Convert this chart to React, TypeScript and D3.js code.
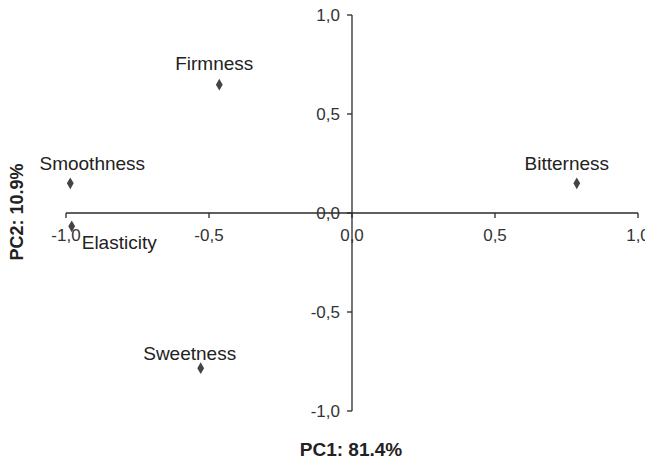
import React from "react";
import * as d3 from "d3";

const attributes = ["Firmness", "Smoothness", "Bitterness", "Elasticity", "Sweetness"];
const pc1Values = [-0.464, -0.985, 0.786, -0.98, -0.529];
const pc2Values = [0.648, 0.15, 0.15, -0.067, -0.784];
const xTickValues = [-1, -0.5, 0, 0.5, 1];
const yTickValues = [-1, -0.5, 0, 0.5, 1];
const xTitle = "PC1: 81.4%";
const yTitle = "PC2: 10.9%";
// label placement relative to the point: [dx, dy, anchor]
const labelPlacement: [number, number, string][] = [
  [-5, -15, "middle"],
  [22, -13, "middle"],
  [-10, -13, "middle"],
  [10, 23, "start"],
  [-11, -8, "middle"],
];

const W = 645;
const H = 460;
const FONT = "'Liberation Sans', Arial, Helvetica, sans-serif";

export default function App() {
  const x = d3.scaleLinear().domain([-1, 1]).range([66, 638]);
  const y = d3.scaleLinear().domain([-1, 1]).range([411, 15]);
  const fmt = (v: number) => d3.format(".1f")(v).replace(".", ",").replace("−", "-");
  const x0 = x(0);
  const y0 = y(0);
  const axisColor = "#2a2a2a";
  const diamond = d3.symbol().type(d3.symbolDiamond).size(40)() as string;

  return (
    <svg
      width={W}
      height={H}
      style={{ position: "absolute", left: 0, top: 0, background: "#fff" }}
      fontFamily={FONT}
    >
      <rect x={0} y={0} width={W} height={H} fill="#fff" />
      {/* x axis */}
      <line x1={x(-1)} x2={x(1)} y1={y0} y2={y0} stroke={axisColor} strokeWidth={1.3} />
      {xTickValues.map((v) => (
        <g key={"xt" + v}>
          <line x1={x(v)} x2={x(v)} y1={y0} y2={y0 + 5} stroke={axisColor} strokeWidth={1.3} />
          <text x={x(v)} y={y0 + 28} textAnchor="middle" fontSize={17} fill="#333">
            {fmt(v)}
          </text>
        </g>
      ))}
      {/* y axis */}
      <line x1={x0} x2={x0} y1={y(1)} y2={y(-1)} stroke={axisColor} strokeWidth={1.3} />
      {yTickValues.map((v) => (
        <g key={"yt" + v}>
          <line x1={x0 - 5} x2={x0} y1={y(v)} y2={y(v)} stroke={axisColor} strokeWidth={1.3} />
          <text x={x0 - 12} y={y(v) + 6} textAnchor="end" fontSize={17} fill="#333">
            {fmt(v)}
          </text>
        </g>
      ))}
      {/* points */}
      {attributes.map((name, i) => {
        const px = x(pc1Values[i]);
        const py = y(pc2Values[i]);
        const [dx, dy, anchor] = labelPlacement[i];
        return (
          <g key={name}>
            <path d={diamond} transform={`translate(${px},${py})`} fill="#444" />
            <text x={px + dx} y={py + dy} textAnchor={anchor as any} fontSize={19} fill="#222">
              {name}
            </text>
          </g>
        );
      })}
      {/* titles */}
      <text x={351} y={456} textAnchor="middle" fontSize={19} fontWeight="bold" fill="#222">
        {xTitle}
      </text>
      <text
        transform={`translate(23,212) rotate(-90)`}
        textAnchor="middle"
        fontSize={18}
        fontWeight="bold"
        fill="#222"
      >
        {yTitle}
      </text>
    </svg>
  );
}
